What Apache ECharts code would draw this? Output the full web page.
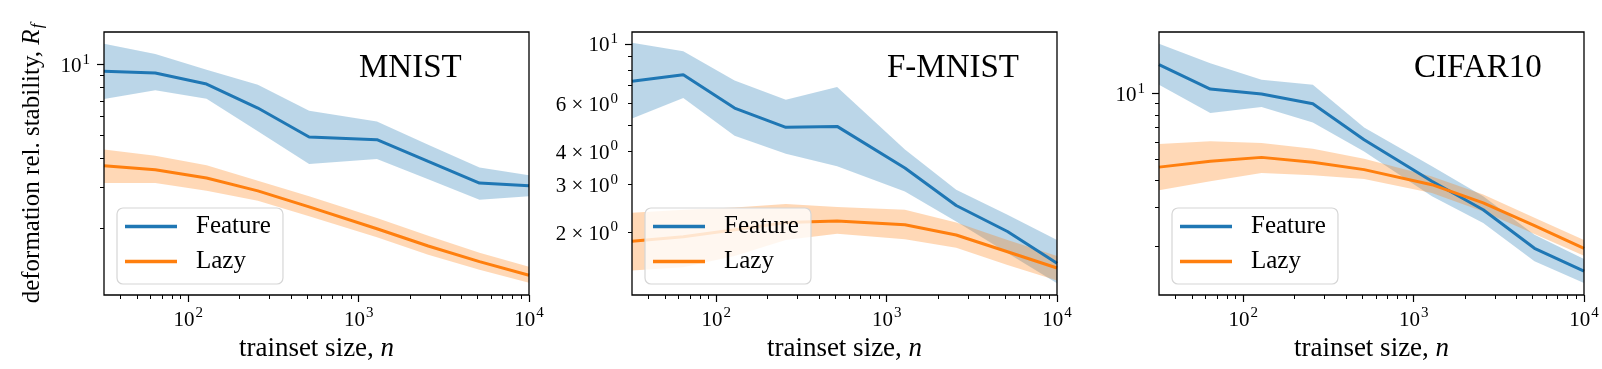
<!DOCTYPE html>
<html><head><meta charset="utf-8">
<script src="https://cdn.jsdelivr.net/npm/echarts@6/dist/echarts.min.js"></script>
<style>html,body{margin:0;padding:0;background:#fff}#c{width:1602px;height:369px}</style>
</head><body><div id="c"></div>
<script>
// ---------- data ----------
const trainsetSizes = [32, 64, 128, 256, 512, 1280, 2560, 5120, 10000];
const panelTitles = ['MNIST', 'F-MNIST', 'CIFAR10'];
const seriesNames = ['Feature', 'Lazy'];

const mnistFeatureMean = [9.37, 9.21, 8.27, 6.53, 4.91, 4.78, 3.86, 3.12, 3.04];
const mnistFeatureLow  = [7.13, 7.77, 7.16, 5.19, 3.76, 3.95, 3.24, 2.65, 2.74];
const mnistFeatureHigh = [12.3, 11.1, 9.52, 8.22, 6.36, 5.72, 4.55, 3.64, 3.37];
const mnistLazyMean    = [3.70, 3.56, 3.28, 2.89, 2.47, 1.99, 1.68, 1.44, 1.26];
const mnistLazyLow     = [3.12, 3.12, 2.89, 2.62, 2.25, 1.83, 1.54, 1.33, 1.17];
const mnistLazyHigh    = [4.34, 4.08, 3.72, 3.19, 2.74, 2.21, 1.86, 1.57, 1.37];

const fmnistFeatureMean = [7.27, 7.69, 5.78, 4.90, 4.94, 3.46, 2.51, 2.01, 1.53];
const fmnistFeatureLow  = [5.28, 6.30, 4.56, 3.91, 3.51, 2.83, 2.19, 1.67, 1.29];
const fmnistFeatureHigh = [10.1, 9.39, 7.31, 6.21, 6.92, 4.05, 2.87, 2.32, 1.87];
const fmnistLazyMean    = [1.85, 1.92, 2.04, 2.17, 2.20, 2.13, 1.95, 1.69, 1.47];
const fmnistLazyLow     = [1.44, 1.48, 1.63, 1.87, 1.97, 1.88, 1.75, 1.51, 1.32];
const fmnistLazyHigh    = [2.36, 2.42, 2.47, 2.54, 2.48, 2.42, 2.17, 1.87, 1.63];

const cifarFeatureMean = [13.6, 10.5, 9.97, 8.99, 6.15, 3.96, 2.93, 1.95, 1.53];
const cifarFeatureLow  = [11.0, 8.15, 8.69, 7.38, 5.43, 3.38, 2.55, 1.70, 1.35];
const cifarFeatureHigh = [16.97, 13.8, 11.6, 11.0, 7.0, 4.64, 3.38, 2.25, 1.74];
const cifarLazyMean    = [4.60, 4.89, 5.10, 4.84, 4.48, 3.82, 3.15, 2.48, 1.95];
const cifarLazyLow     = [3.60, 3.96, 4.32, 4.22, 4.06, 3.50, 2.88, 2.27, 1.80];
const cifarLazyHigh    = [5.87, 6.04, 5.93, 5.59, 5.02, 4.17, 3.44, 2.69, 2.13];

// axis ranges and ticks
const xMin = 32, xMax = 10000;
const yMin = [1.037, 1.167, 1.19];
const yMax = [13.8, 11.08, 19.2];
const xMajorTicks = [100, 1000, 10000];
const xMinorTicks = [40, 50, 60, 70, 80, 90, 200, 300, 400, 500, 600, 700, 800, 900,
                     2000, 3000, 4000, 5000, 6000, 7000, 8000, 9000];
const yMajorTicks = [10];
const yMinorTicks = [2, 3, 4, 5, 6, 7, 8, 9];
const yMinorLabeled = [[], [2, 3, 4, 6], []];

// ---------- chart ----------
const L = Math.log10;
const FONT = 'Liberation Serif';
const BLUE = '#1f77b4', ORANGE = '#ff7f0e';
const BLUE_BAND = 'rgba(31,119,180,0.3)', ORANGE_BAND = 'rgba(255,127,14,0.3)';

const panelData = [
  [mnistFeatureMean, mnistFeatureLow, mnistFeatureHigh, mnistLazyMean, mnistLazyLow, mnistLazyHigh],
  [fmnistFeatureMean, fmnistFeatureLow, fmnistFeatureHigh, fmnistLazyMean, fmnistLazyLow, fmnistLazyHigh],
  [cifarFeatureMean, cifarFeatureLow, cifarFeatureHigh, cifarLazyMean, cifarLazyLow, cifarLazyHigh]
];

const gridLeft = [104, 632, 1159], gridW = 425, gridTop = 32, gridH = 263;
const tickRich = {
  b: { fontFamily: FONT, fontSize: 21, verticalAlign: 'bottom', color: '#000' },
  s: { fontFamily: FONT, fontSize: 15, verticalAlign: 'bottom', padding: [0, 0, 10, 1], color: '#000' }
};

const grids = [], xAxes = [], yAxes = [], series = [], legends = [], graphics = [];

function bandSeries(i, low, high, color) {
  return {
    type: 'custom', xAxisIndex: 2 * i, yAxisIndex: 2 * i, silent: true, z: 1,
    data: trainsetSizes.map((n, k) => [L(n), L(low[k]), L(high[k])]),
    encode: { x: 0, y: [1, 2] },
    renderItem: function (params, api) {
      if (params.dataIndexInside !== 0) return null;
      const cnt = params.dataInsideLength;
      const top = [], bot = [];
      for (let k = 0; k < cnt; k++) {
        const x = api.value(0, k);
        top.push(api.coord([x, api.value(2, k)]));
        bot.push(api.coord([x, api.value(1, k)]));
      }
      return { type: 'polygon', shape: { points: top.concat(bot.reverse()) },
               style: { fill: color, stroke: null } };
    }
  };
}

for (let i = 0; i < 3; i++) {
  grids.push({ left: gridLeft[i], top: gridTop, width: gridW, height: gridH,
               show: true, borderColor: '#000', borderWidth: 1.3, backgroundColor: 'transparent', z: 5 });
  const xBase = { type: 'value', gridIndex: i, min: L(xMin), max: L(xMax), position: 'bottom',
                  splitLine: { show: false }, axisLine: { show: false } };
  xAxes.push(Object.assign({}, xBase, {
    axisTick: { show: true, length: 7, lineStyle: { color: '#000', width: 1.2 }, customValues: xMajorTicks.map(L) },
    axisLabel: { show: true, margin: 11, customValues: xMajorTicks.map(L),
                 formatter: v => '{b|10}{s|' + Math.round(v) + '}', rich: tickRich },
    name: '{t|trainset size, }{i|n}', nameLocation: 'middle', nameGap: 38,
    nameTextStyle: { rich: {
      t: { fontFamily: FONT, fontSize: 27, color: '#000' },
      i: { fontFamily: FONT, fontSize: 27, fontStyle: 'italic', color: '#000' } } }
  }));
  xAxes.push(Object.assign({}, xBase, {
    axisTick: { show: true, length: 4, lineStyle: { color: '#000', width: 1 }, customValues: xMinorTicks.map(L) },
    axisLabel: { show: false }
  }));

  const yBase = { type: 'value', gridIndex: i, min: L(yMin[i]), max: L(yMax[i]), position: 'left',
                  splitLine: { show: false }, axisLine: { show: false } };
  const yMajor = Object.assign({}, yBase, {
    axisTick: { show: true, length: 7, lineStyle: { color: '#000', width: 1.2 }, customValues: yMajorTicks.map(L) },
    axisLabel: { show: true, margin: 14, customValues: yMajorTicks.map(L),
                 formatter: v => '{b|10}{s|' + Math.round(v) + '}', rich: tickRich }
  });
  if (i === 0) {
    Object.assign(yMajor, {
      name: '{t|deformation rel. stability, }{i|R}{f|f}', nameLocation: 'middle', nameRotate: 90, nameGap: 58,
      nameTextStyle: { rich: {
        t: { fontFamily: FONT, fontSize: 25, verticalAlign: 'top', color: '#000' },
        i: { fontFamily: FONT, fontSize: 25, verticalAlign: 'top', fontStyle: 'italic', color: '#000' },
        f: { fontFamily: FONT, fontSize: 17, verticalAlign: 'top', padding: [9, 0, 0, 1], fontStyle: 'italic', color: '#000' } } }
    });
  }
  yAxes.push(yMajor);
  const labeled = yMinorLabeled[i];
  yAxes.push(Object.assign({}, yBase, {
    axisTick: { show: true, length: 4, lineStyle: { color: '#000', width: 1 }, customValues: yMinorTicks.map(L) },
    axisLabel: { show: labeled.length > 0, margin: 14, customValues: labeled.map(L),
                 formatter: v => '{b|' + Math.round(Math.pow(10, v)) + ' × 10}{s|0}', rich: tickRich }
  }));

  const d = panelData[i];
  series.push(bandSeries(i, d[1], d[2], BLUE_BAND));
  series.push(bandSeries(i, d[4], d[5], ORANGE_BAND));
  series.push({ type: 'line', name: seriesNames[0], xAxisIndex: 2 * i, yAxisIndex: 2 * i, z: 3,
                data: trainsetSizes.map((n, k) => [L(n), L(d[0][k])]), symbol: 'none',
                lineStyle: { color: BLUE, width: 3 }, itemStyle: { color: BLUE } });
  series.push({ type: 'line', name: seriesNames[1], xAxisIndex: 2 * i, yAxisIndex: 2 * i, z: 3,
                data: trainsetSizes.map((n, k) => [L(n), L(d[3][k])]), symbol: 'none',
                lineStyle: { color: ORANGE, width: 3 }, itemStyle: { color: ORANGE } });

  legends.push({ data: seriesNames, orient: 'vertical', left: gridLeft[i] + 13, top: 208,
                 icon: 'rect', itemWidth: 52, itemHeight: 3.3, itemGap: 10, selectedMode: false,
                 padding: [6, 12, 10, 8], backgroundColor: 'rgba(255,255,255,0.8)',
                 borderColor: '#d6d6d6', borderWidth: 1.2, borderRadius: 6,
                 textStyle: { fontFamily: FONT, fontSize: 25, lineHeight: 24, color: '#000', padding: [0, 0, 0, 14] } });

  graphics.push({ type: 'text', left: gridLeft[i] + 0.6 * gridW, top: 52, z: 10,
                  style: { text: panelTitles[i], font: '33px "Liberation Serif"', fill: '#000' } });
}

const chart = echarts.init(document.getElementById('c'), null, { renderer: 'canvas', width: 1602, height: 369 });
chart.setOption({
  animation: false,
  backgroundColor: '#fff',
  grid: grids, xAxis: xAxes, yAxis: yAxes, series: series, legend: legends, graphic: graphics
});
</script>
</body></html>
